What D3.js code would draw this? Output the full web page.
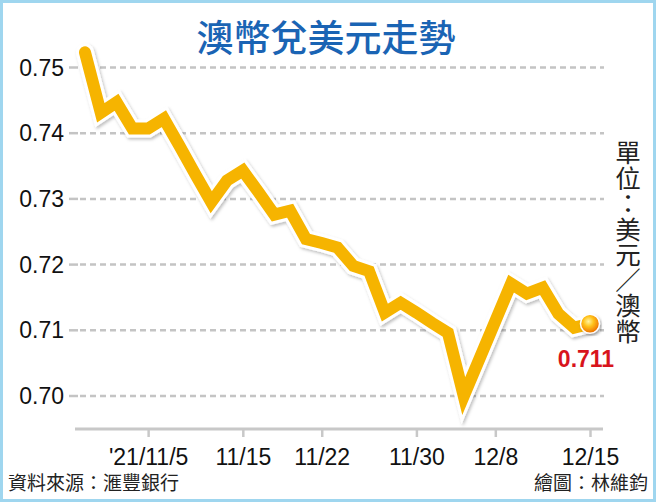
<!DOCTYPE html>
<html>
<head>
<meta charset="utf-8">
<script src="https://cdn.jsdelivr.net/npm/d3@7"></script>
<style>
 body { margin:0; background:#fff; }
 text { font-family:"Liberation Sans", Arial, sans-serif; }
 .cjk { font-family:"Noto Sans CJK TC", "Noto Sans CJK SC", sans-serif; }
</style>
</head>
<body>
<script>

 // AUD/USD, one point per trading day (11/1 .. 12/15)
 var values = [0.7523, 0.7431, 0.7447, 0.7407, 0.7407, 0.7422, 0.7380, 0.7337,
               0.7295, 0.7328, 0.7343, 0.7310, 0.7276, 0.7282, 0.7239, 0.7233,
               0.7226, 0.7198, 0.7190, 0.7127, 0.7142, 0.7127, 0.7111, 0.7096,
               0.7000, 0.7057, 0.7114, 0.7171, 0.7156, 0.7165, 0.7125, 0.7104,
               0.7110];
 var tickIdx = [4, 10, 15, 21, 26, 32];
 var tickLabels = ["'21/11/5", "11/15", "11/22", "11/30", "12/8", "12/15"];
 var yTicks = [0.70, 0.71, 0.72, 0.73, 0.74, 0.75];
 var lastLabel = "0.711";

 var W = 656, H = 502;

 var svg = d3.select("body")
             .append("svg")
             .attr("width", W)
             .attr("height", H);

 var x = d3.scaleLinear().domain([0, values.length - 1]).range([85, 590]);
 var y = d3.scaleLinear().domain([0.70, 0.75]).range([396, 67.5]);

 var defs = svg.append("defs");
 var shadow = defs.append("filter").attr("id", "shadow")
     .attr("x", "-10%").attr("y", "-10%").attr("width", "120%").attr("height", "120%");
 shadow.append("feDropShadow")
     .attr("dx", 1.5).attr("dy", 2).attr("stdDeviation", 1.5)
     .attr("flood-color", "#000").attr("flood-opacity", 0.25);

 var ball = defs.append("radialGradient").attr("id", "ball")
     .attr("cx", "42%").attr("cy", "38%").attr("r", "60%");
 ball.append("stop").attr("offset", "0%").attr("stop-color", "#fff4a0");
 ball.append("stop").attr("offset", "45%").attr("stop-color", "#ffc21a");
 ball.append("stop").attr("offset", "100%").attr("stop-color", "#ee7200");

 // frame
 svg.append("rect")
     .attr("x", 1.5).attr("y", 1.5)
     .attr("width", W - 3).attr("height", H - 3)
     .attr("fill", "#fff")
     .attr("stroke", "#9fd6ef")
     .attr("stroke-width", 3);

 // title
 svg.append("text")
     .attr("class", "cjk")
     .attr("x", 326).attr("y", 52)
     .attr("text-anchor", "middle")
     .attr("font-size", 37)
     .attr("font-weight", 500)
     .attr("fill", "#1a64b4")
     .text("澳幣兌美元走勢");

 // y grid + labels
 var yg = svg.append("g");
 yg.selectAll("line.grid").data(yTicks).enter()
     .append("line")
     .attr("class", "grid")
     .attr("x1", 80).attr("x2", 604)
     .attr("y1", function(d) { return y(d); })
     .attr("y2", function(d) { return y(d); })
     .attr("stroke", "#c4c4c4")
     .attr("stroke-width", 2.5)
     .attr("stroke-dasharray", "6,4");
 yg.selectAll("line.tick").data(yTicks).enter()
     .append("line")
     .attr("class", "tick")
     .attr("x1", 69).attr("x2", 78)
     .attr("y1", function(d) { return y(d); })
     .attr("y2", function(d) { return y(d); })
     .attr("stroke", "#c4c4c4")
     .attr("stroke-width", 2.5);
 yg.selectAll("text").data(yTicks).enter()
     .append("text")
     .attr("x", 64)
     .attr("y", function(d) { return y(d) + 8; })
     .attr("text-anchor", "end")
     .attr("font-size", 23)
     .attr("fill", "#111")
     .text(function(d) { return d3.format(".2f")(d); });

 // x axis
 var xAxis = d3.axisBottom(x)
     .tickValues(tickIdx)
     .tickSize(8)
     .tickFormat(function(d, i) { return tickLabels[i]; });
 var xg = svg.append("g")
     .attr("transform", "translate(0,429)")
     .call(xAxis);
 xg.select(".domain").remove();
 xg.insert("line", ":first-child")
     .attr("x1", 75).attr("x2", 603)
     .attr("stroke", "#c8c8c8")
     .attr("stroke-width", 3);
 xg.selectAll(".tick line")
     .attr("stroke", "#c8c8c8")
     .attr("stroke-width", 2.5);
 xg.selectAll(".tick text")
     .attr("font-family", "Liberation Sans, Arial, sans-serif")
     .attr("font-size", 23)
     .attr("fill", "#111")
     .attr("dy", 0)
     .attr("y", 36);

 // line
 var line = d3.line()
     .x(function(d, i) { return x(i); })
     .y(function(d) { return y(d); });

 var lg = svg.append("g").attr("filter", "url(#shadow)");
 lg.append("path")
     .datum(values)
     .attr("d", line)
     .attr("fill", "none")
     .attr("stroke", "#fff")
     .attr("stroke-width", 18)
     .attr("stroke-linejoin", "miter")
     .attr("stroke-linecap", "round");
 lg.append("path")
     .datum(values)
     .attr("d", line)
     .attr("fill", "none")
     .attr("stroke", "#f6b400")
     .attr("stroke-width", 12)
     .attr("stroke-linejoin", "miter")
     .attr("stroke-linecap", "round");

 // last point
 var li = values.length - 1;
 svg.append("circle")
     .attr("cx", x(li)).attr("cy", y(values[li]))
     .attr("r", 9.5)
     .attr("fill", "url(#ball)")
     .attr("stroke", "#fff")
     .attr("stroke-width", 1.5)
     .attr("filter", "url(#shadow)");
 svg.append("text")
     .attr("x", x(li) - 4).attr("y", y(values[li]) + 43)
     .attr("text-anchor", "middle")
     .attr("font-size", 23)
     .attr("font-weight", "bold")
     .attr("fill", "#d8141c")
     .text(lastLabel);

 // unit, vertical
 svg.append("text")
     .attr("class", "cjk")
     .attr("x", 628).attr("y", 140)
     .attr("font-size", 25.5)
     .attr("fill", "#222")
     .style("writing-mode", "vertical-rl")
     .style("glyph-orientation-vertical", 0)
     .text("單位：美元／澳幣");

 // source / credit
 svg.append("text")
     .attr("class", "cjk")
     .attr("x", 8).attr("y", 490)
     .attr("font-size", 19)
     .attr("fill", "#222")
     .text("資料來源：滙豐銀行");
 svg.append("text")
     .attr("class", "cjk")
     .attr("x", 648).attr("y", 490)
     .attr("text-anchor", "end")
     .attr("font-size", 19)
     .attr("fill", "#222")
     .text("繪圖：林維鈞");

</script>
</body>
</html>
